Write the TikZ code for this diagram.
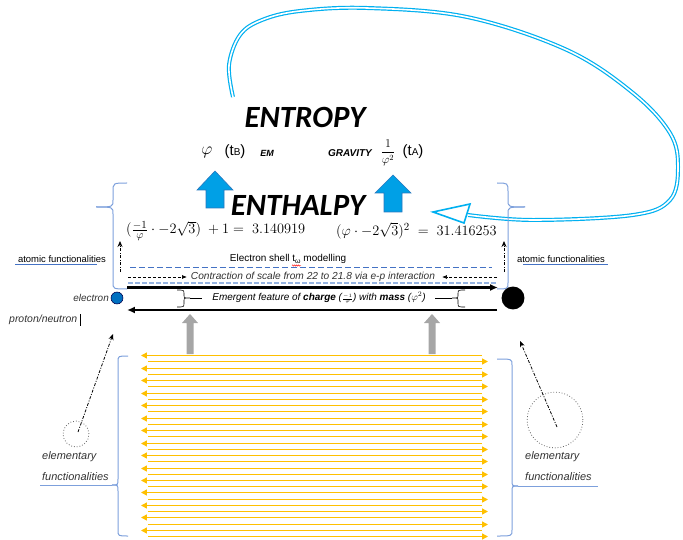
\documentclass[tikz,border=0pt]{standalone}
\usepackage{amsmath}
\usepackage{fontspec}
\setmainfont{Liberation Sans}
\newfontfamily\calib{Carlito}
\usetikzlibrary{arrows.meta,decorations.pathmorphing}
\definecolor{cyanA}{RGB}{0,176,240}
\definecolor{braceblue}{RGB}{125,160,220}
\definecolor{dashblue}{RGB}{68,114,196}
\definecolor{lightdash}{RGB}{150,180,225}
\definecolor{goldA}{RGB}{255,192,0}
\definecolor{goldB}{RGB}{255,192,0}
\definecolor{blockblue}{RGB}{0,160,230}
\definecolor{blockedge}{RGB}{40,120,190}
\definecolor{eblue}{RGB}{0,112,192}
\definecolor{grayA}{RGB}{166,166,166}
\definecolor{txtgray}{RGB}{50,50,50}
\begin{document}
\begin{tikzpicture}[x=1bp,y=-1bp,
  txt/.style={inner sep=0pt, text=black, font=\fontsize{10}{12}\selectfont},
  itxt/.style={inner sep=0pt, text=txtgray, font=\fontsize{10}{12}\selectfont\itshape},
  eltxt/.style={inner sep=0pt, text=txtgray, font=\fontsize{11}{13}\selectfont\itshape},
  titletxt/.style={inner sep=0pt, font=\calib\bfseries\itshape\fontsize{31}{33}\selectfont},
  mathtxt/.style={inner sep=0pt, font=\fontsize{15}{17}\selectfont},
  bracebl/.style={draw=braceblue, line width=1bp},
  blockarrow/.style={fill=blockblue, draw=blockedge, line width=0.6pt},
  grayarrow/.style={fill=grayA, draw=none},
  ddarrow/.style={draw=black, line width=0.8pt, dash pattern=on 3pt off 1.5pt on 1pt off 1.5pt, -{Stealth[length=6pt,width=5pt]}},
  dasharrow/.style={draw=black, line width=0.7pt, dash pattern=on 3pt off 2pt, -{Latex[length=5pt,width=4pt]}},
  thickarrow/.style={draw=black, line width=2.2pt, -{Latex[length=8pt,width=7pt]}},
  goldleft/.style={draw=goldA, line width=1.6bp, -{Triangle[length=6pt,width=6pt]}},
  goldright/.style={draw=goldB, line width=1.6bp, -{Triangle[length=6pt,width=6pt]}},
  smallbrace/.style={draw=black, line width=0.6pt}
]
\useasboundingbox (0,0) rectangle (683,540);

% ---- big cyan loop arrow
\draw[draw=cyanA, line width=1.2pt, double=white, double distance=1.6pt]
  plot[smooth, tension=0.6] coordinates {(233,97) (229,65) (240,35) (262,20) (300,11) (367,8) (467,17) (567,50) (633,93) (670,133) (678,167) (670,200) (633,215) (533,220) (468,215)};
\draw[cyanA, line width=1.6pt, fill=white, line join=miter] (433,212) -- (470,204) -- (464,223) -- cycle;

% ---- blue block arrows
\draw[blockarrow] (206,208) -- (206,190) -- (197,190) -- (215,171) -- (233,190) -- (224,190) -- (224,208) -- cycle;
\draw[blockarrow] (384,212) -- (384,193) -- (375,193) -- (393,175) -- (411,193) -- (402,193) -- (402,212) -- cycle;

% ---- titles
\node[titletxt] (entropy) at (305,117) {ENTROPY};
\node[titletxt] (enthalpy) at (298,205) {ENTHALPY};

% ---- forces line
\node[inner sep=0pt, font=\fontsize{17}{19}\selectfont] (phi) at (207,152) {$\varphi$};
\node[inner sep=0pt, font=\fontsize{15}{17}\selectfont] (tb) at (235,152) {(t{\fontsize{10}{10}\selectfont B})};
\node[inner sep=0pt, font=\fontsize{9}{10}\selectfont\bfseries\itshape] (em) at (267,153) {EM};
\node[inner sep=0pt, font=\fontsize{10}{10}\selectfont\bfseries\itshape] (grav) at (350,153) {GRAVITY};
\node[inner sep=0pt, font=\fontsize{12}{14}\selectfont] (frac) at (388,153) {$\displaystyle\frac{1}{\varphi^2}$};
\node[inner sep=0pt, font=\fontsize{15}{17}\selectfont] (ta) at (413,152) {(t{\fontsize{10}{10}\selectfont A})};

% ---- formulas
\node[mathtxt, anchor=west] (f1) at (126,231) {$(\tfrac{-1}{\varphi}\cdot -2\sqrt{3})\;+1=\;3.140919$};
\node[mathtxt, anchor=west] (f2) at (336,231) {$(\varphi\cdot -2\sqrt{3})^2\;=\;31.416253$};

% ---- upper braces
\draw[bracebl] (127,183) .. controls (113,183) .. (113,192) -- (113,200) .. controls (113,207) .. (96,207);
\draw[bracebl] (96,207) .. controls (113,207) .. (113,214) -- (113,282) .. controls (113,289) .. (127,289);
\draw[bracebl] (497,183) .. controls (508,183) .. (508,192) -- (508,200) .. controls (508,207) .. (525,207);
\draw[bracebl] (525,207) .. controls (508,207) .. (508,214) -- (508,282) .. controls (508,289) .. (497,289);

% ---- dash-dot arrows (atomic)
\coordinate (al0) at (120,272); \coordinate (al1) at (120,241);
\coordinate (ar0) at (504,272); \coordinate (ar1) at (504,241);
\draw[ddarrow] (al0) -- (al1);
\draw[ddarrow] (ar0) -- (ar1);

% ---- atomic functionalities
\node[txt, font=\fontsize{9.5}{11}\selectfont] (afl) at (62,259) {atomic functionalities};
\draw[dashblue, line width=0.8pt] (15,264.5) -- (97,264.5);
\node[txt, font=\fontsize{9.5}{11}\selectfont] (afr) at (561,259) {atomic functionalities};
\draw[dashblue, line width=0.8pt] (523,264.5) -- (608,264.5);

% ---- electron shell
\node[txt] (shell) at (288,259) {Electron shell t{\fontsize{7}{7}\selectfont\raisebox{-1.5pt}{ω}} modelling};
\draw[red, line width=0.5pt, decorate, decoration={snake, amplitude=0.6pt, segment length=2pt}] (292,265.5) -- (301,265.5);
\draw[dashblue, line width=0.9pt, dash pattern=on 6pt off 3pt] (130,267) -- (492,267);

\node[itxt, font=\fontsize{10.2}{12}\selectfont\itshape] (contr) at (313,277) {Contraction of scale from 22 to 21.8 via e-p interaction};
\coordinate (cl0) at (128,277); \coordinate (cl1) at (187,277);
\coordinate (cr0) at (497,277); \coordinate (cr1) at (442,277);
\draw[dasharrow] (cl0) -- (cl1);
\draw[dasharrow] (cr0) -- (cr1);
\draw[lightdash, line width=1.2pt, dash pattern=on 5pt off 2pt] (128,283) -- (497,283);

% ---- particles and thick arrows
\node[circle, fill=eblue, draw=black!70!blue, line width=0.6pt, minimum size=12pt, inner sep=0pt] (electron) at (117,298) {};
\node[circle, fill=black, minimum size=23pt, inner sep=0pt] (nucleus) at (513,298) {};
\coordinate (t0) at (127,287.5); \coordinate (t1) at (498,287.5);
\coordinate (b0) at (497,310); \coordinate (b1) at (127,310);
\draw[thickarrow] (t0) -- (t1);
\draw[thickarrow] (b0) -- (b1);
\node[itxt, anchor=east] (eltext) at (109,298) {electron};
\node[itxt, anchor=west, font=\fontsize{10.5}{12}\selectfont\itshape] (pn) at (9,320) {proton/neutron};
\draw[black, line width=0.6pt] (80,314) -- (80,326);

\node[itxt, text=black, font=\fontsize{10}{11}\selectfont\itshape] (emerg) at (319,298) {Emergent feature of \textbf{charge} ($\scriptscriptstyle\frac{-1}{\varphi}$) with \textbf{mass} ($\varphi^2$)};
\draw[smallbrace] (177,290) .. controls (184,290) .. (184,294) -- (184,295) .. controls (184,298) .. (190,298) .. controls (184,298) .. (184,301) -- (184,303) .. controls (184,307) .. (177,307);
\draw[smallbrace] (190,298) -- (202,298);
\draw[smallbrace] (465,290) .. controls (458,290) .. (458,294) -- (458,295) .. controls (458,298) .. (452,298) .. controls (458,298) .. (458,301) -- (458,303) .. controls (458,307) .. (465,307);
\draw[smallbrace] (452,298) -- (435,298);

% ---- gray block arrows
\draw[grayarrow] (186.5,354) -- (186.5,323) -- (182,323) -- (190,314) -- (198,323) -- (193.5,323) -- (193.5,354) -- cycle;
\draw[grayarrow] (428.5,354) -- (428.5,323) -- (424,323) -- (432,314) -- (440,323) -- (435.5,323) -- (435.5,354) -- cycle;

% ---- gold arrows (alternating directions)
\foreach \k in {0,...,14}{
  \pgfmathsetmacro{\ya}{floor(355.7+\k*12.48)+0.5}
  \pgfmathsetmacro{\yb}{floor(361.94+\k*12.48)+0.5}
  \draw[goldleft] (482,\ya) -- (141,\ya);
  \draw[goldright] (148,\yb) -- (488,\yb);
}

% ---- lower braces
\draw[bracebl] (128,356) .. controls (118,356) .. (118,362) -- (118,479) .. controls (118,485) .. (112,485);
\draw[bracebl] (112,485) .. controls (118,485) .. (118,491) -- (118,530) .. controls (118,536) .. (128,536);
\draw[bracebl] (112,485) -- (40,485);
\draw[bracebl] (497,359) .. controls (512,359) .. (512,365) -- (512,480) .. controls (512,486) .. (518,486);
\draw[bracebl] (518,486) .. controls (512,486) .. (512,492) -- (512,530) .. controls (512,536) .. (497,536);
\draw[bracebl] (518,486) -- (598,486);

% ---- elementary functionalities
\node[circle, draw=black!60, dotted, line width=0.8pt, minimum size=26pt, inner sep=0pt] (lc) at (76,434) {};
\node[circle, draw=black!60, dotted, line width=0.8pt, minimum size=56pt, inner sep=0pt] (rc) at (555,420) {};
\coordinate (lt) at (113,334);
\coordinate (rt) at (520,341);
\draw[ddarrow] ([shift={(2,-2)}]lc.center) -- (lt);
\draw[ddarrow] ([shift={(2,7)}]rc.center) -- (rt);
\node[eltxt, anchor=west] (el1) at (42,457) {elementary};
\node[eltxt, anchor=west] (el2) at (42,477) {functionalities};
\node[eltxt, anchor=west] (er1) at (525,457) {elementary};
\node[eltxt, anchor=west] (er2) at (525,477) {functionalities};
\end{tikzpicture}
\end{document}
